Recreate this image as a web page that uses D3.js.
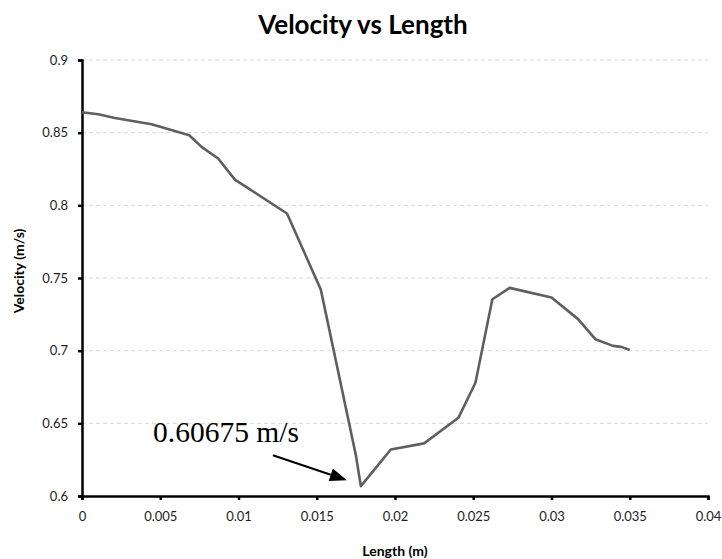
<!DOCTYPE html>
<html lang="en">
<head>
    <meta charset="UTF-8">
    <title>Velocity vs Length</title>
    <script src="https://cdnjs.cloudflare.com/ajax/libs/d3/7.8.5/d3.min.js"></script>
    <style>
        body { margin: 0; background: #fff; }
        svg { display: block; }
    </style>
</head>
<body>
<div id="chart"></div>
<script>
    // Length (m) and velocity (m/s)
    const lengths = [0, 0.00104, 0.0021, 0.00445, 0.00685, 0.00764, 0.0087, 0.00977, 0.0131,
        0.01526, 0.0175, 0.01782, 0.01973, 0.02186, 0.02405, 0.02514, 0.02622, 0.02733,
        0.03, 0.0317, 0.0328, 0.03393, 0.03446, 0.035];
    const velocities = [0.864, 0.8627, 0.8601, 0.8558, 0.8482, 0.8402, 0.8322, 0.8177, 0.7944,
        0.742, 0.628, 0.60675, 0.632, 0.6362, 0.6538, 0.6779, 0.7354, 0.7432,
        0.7366, 0.7217, 0.7079, 0.7033, 0.7026, 0.7004];
    const xTicks = [0, 0.005, 0.01, 0.015, 0.02, 0.025, 0.03, 0.035, 0.04];
    const yTicks = [0.6, 0.65, 0.7, 0.75, 0.8, 0.85, 0.9];
    const minLabel = '0.60675 m/s';

    const width = 722, height = 559;
    const margin = { top: 60, right: 14, bottom: 63, left: 82 };

    const svg = d3.select('#chart').append('svg')
        .attr('width', width)
        .attr('height', height);

    const x = d3.scaleLinear().domain([0, 0.04]).range([margin.left, width - margin.right]);
    const y = d3.scaleLinear().domain([0.6, 0.9]).range([height - margin.bottom, margin.top]);

    // dashed grid
    svg.append('g')
        .selectAll('line')
        .data(yTicks.slice(1))
        .enter().append('line')
        .attr('x1', x(0)).attr('x2', x(0.04))
        .attr('y1', d => y(d)).attr('y2', d => y(d))
        .attr('stroke', '#d9d9d9')
        .attr('stroke-dasharray', '4,3');

    // axes
    const xAxis = svg.append('g')
        .attr('transform', `translate(0,${y(0.6)})`)
        .call(d3.axisBottom(x).tickValues(xTicks).tickFormat(d3.format('')).tickSize(4).tickPadding(12));
    const yAxis = svg.append('g')
        .attr('transform', `translate(${x(0)},0)`)
        .call(d3.axisLeft(y).tickValues(yTicks).tickFormat(d3.format('')).tickSize(4).tickPadding(10));

    [xAxis, yAxis].forEach(g => {
        g.select('.domain').attr('stroke', '#000').attr('stroke-width', 2.5);
        g.selectAll('.tick line').attr('stroke', '#000').attr('stroke-width', 2.5);
        g.selectAll('.tick text')
            .attr('font-family', 'Lato, "Open Sans", sans-serif')
            .attr('font-size', 13)
            .attr('fill', '#222');
    });

    // data line
    const pts = lengths.map((l, i) => [l, velocities[i]]);
    svg.append('path')
        .datum(pts)
        .attr('fill', 'none')
        .attr('stroke', '#5f5f5f')
        .attr('stroke-width', 2.6)
        .attr('stroke-linejoin', 'round')
        .attr('d', d3.line().x(d => x(d[0])).y(d => y(d[1])));

    // title and axis titles
    svg.append('text')
        .attr('x', 363).attr('y', 34)
        .attr('text-anchor', 'middle')
        .attr('font-family', 'Lato, "Open Sans", sans-serif')
        .attr('font-weight', 'bold')
        .attr('font-size', 26)
        .text('Velocity vs Length');

    svg.append('text')
        .attr('x', (x(0) + x(0.04)) / 2).attr('y', 556)
        .attr('text-anchor', 'middle')
        .attr('font-family', 'Lato, "Open Sans", sans-serif')
        .attr('font-weight', 'bold')
        .attr('font-size', 14)
        .text('Length (m)');

    svg.append('text')
        .attr('transform', 'translate(24,271) rotate(-90)')
        .attr('text-anchor', 'middle')
        .attr('font-family', 'Lato, "Open Sans", sans-serif')
        .attr('font-weight', 'bold')
        .attr('font-size', 14)
        .text('Velocity (m/s)');

    // annotation for the minimum: arrow pointing at the lowest point
    const minIdx = velocities.indexOf(d3.min(velocities));
    const mx = x(lengths[minIdx]), my = y(velocities[minIdx]);
    const tip = [mx - 14, my - 6], tail = [mx - 88, my - 31];
    const ang = Math.atan2(tip[1] - tail[1], tip[0] - tail[0]);
    const headLen = 17, headHalf = 6.5;
    const base = [tip[0] - headLen * Math.cos(ang), tip[1] - headLen * Math.sin(ang)];

    svg.append('line')
        .attr('x1', tail[0]).attr('y1', tail[1])
        .attr('x2', base[0]).attr('y2', base[1])
        .attr('stroke', '#000')
        .attr('stroke-width', 2);

    svg.append('path')
        .attr('d', d3.line()([
            tip,
            [base[0] + headHalf * Math.sin(ang), base[1] - headHalf * Math.cos(ang)],
            [base[0] - headHalf * Math.sin(ang), base[1] + headHalf * Math.cos(ang)]
        ]) + 'Z')
        .attr('fill', '#000');

    svg.append('text')
        .attr('x', 153).attr('y', 442)
        .attr('font-family', '"Liberation Serif", "Times New Roman", serif')
        .attr('font-size', 29.5)
        .attr('fill', '#000')
        .text(minLabel);
</script>
</body>
</html>
